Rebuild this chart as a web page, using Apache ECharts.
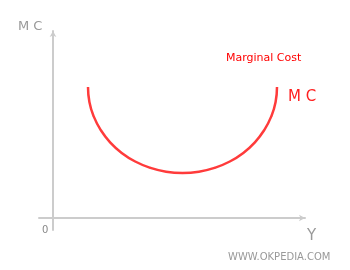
<!DOCTYPE html>
<html><head><meta charset="utf-8">
<script src="https://cdn.jsdelivr.net/npm/echarts@6/dist/echarts.min.js"></script>
<style>html,body{margin:0;padding:0;background:#fff}#c{width:350px;height:270px}</style>
</head><body><div id="c"></div>
<script>
// Output Y (x-axis) and marginal cost MC (y-axis)
var outputY = [35, 36.4, 40.7, 47.7, 57.1, 68.7, 82.2, 97.2, 113.1, 129.5, 145.9, 161.8, 176.8, 190.3, 201.9, 211.3, 218.3, 222.6, 224];
var mcValues = [131, 116, 101.6, 88, 75.7, 65.1, 56.5, 50.2, 46.3, 45, 46.3, 50.2, 56.5, 65.1, 75.7, 88, 101.6, 116, 131];
var xAxisName = 'Y';
var yAxisName = 'MC';
var seriesName = 'MC';
var curveTitle = 'Marginal Cost';
var originLabel = '0';
var credit = 'WWW.OKPEDIA.COM';

var data = outputY.map(function (x, i) { return [x, mcValues[i]]; });
var chart = echarts.init(document.getElementById('c'), null, {renderer: 'canvas'});
var gray = '#cccccc';
var fontF = 'DejaVu Sans, Verdana, sans-serif';
chart.setOption({
  animation: false,
  grid: {left: 39, right: 45, top: 31, bottom: 40},
  xAxis: {
    type: 'value', min: -14, max: 252,
    axisLine: {onZero: true, lineStyle: {color: gray, width: 2}, symbol: ['none', 'arrow'], symbolSize: [5, 6]},
    axisTick: {show: false}, axisLabel: {show: false}, splitLine: {show: false}
  },
  yAxis: {
    type: 'value', min: -12, max: 187,
    axisLine: {onZero: true, lineStyle: {color: gray, width: 2}, symbol: ['none', 'arrow'], symbolSize: [5, 6]},
    axisTick: {show: false}, axisLabel: {show: false}, splitLine: {show: false}
  },
  series: [{
    name: seriesName, type: 'line', data: data, smooth: true, showSymbol: false,
    lineStyle: {color: '#ff3b3b', width: 2.5}
  }],
  graphic: [
    {type: 'text', left: 18, top: 20, style: {text: yAxisName.split('').join(' '), fill: '#999', font: '13px ' + fontF}},
    {type: 'text', left: 226, top: 53, style: {text: curveTitle, fill: '#ff0000', font: '11px ' + fontF}},
    {type: 'text', left: 288, top: 90, style: {text: seriesName.split('').join(' '), fill: '#ff2020', font: '15px ' + fontF}},
    {type: 'text', left: 307, top: 229, style: {text: xAxisName, fill: '#999', font: '15px ' + fontF}},
    {type: 'text', left: 42, top: 225, style: {text: originLabel, fill: '#888', font: '10px ' + fontF}},
    {type: 'text', left: 228, top: 252, style: {text: credit, fill: '#999', font: '10px ' + fontF}}
  ]
});
</script></body></html>
